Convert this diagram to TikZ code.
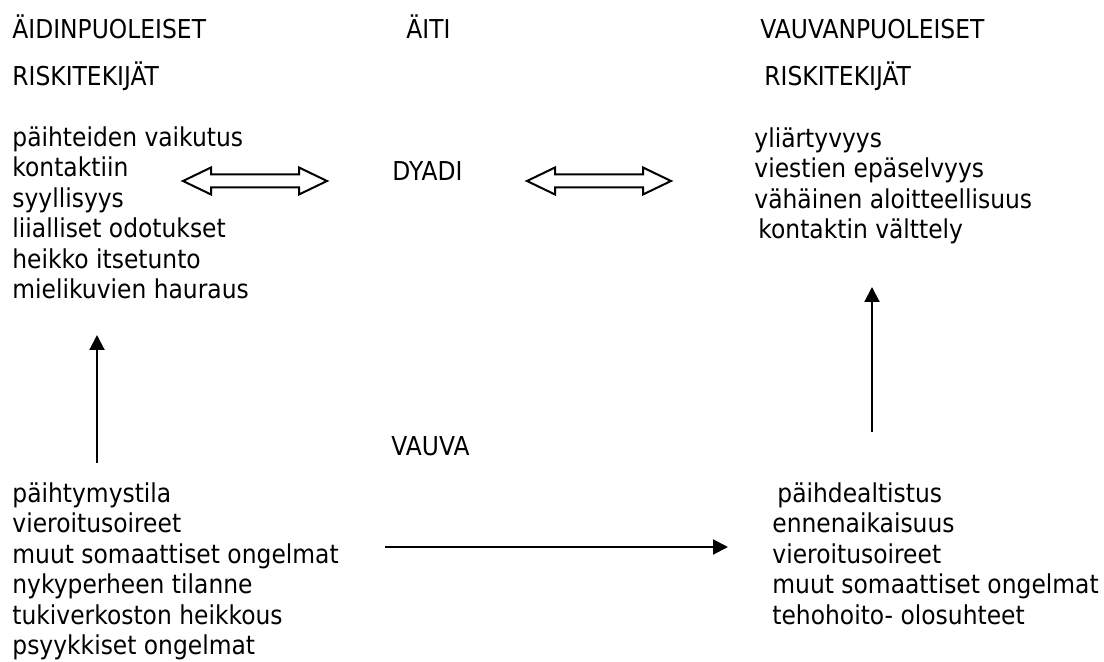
\documentclass[tikz,border=0pt]{standalone}
\usepackage{fontspec}
\setmainfont{DejaVu Sans}[FakeStretch=0.9]
\usetikzlibrary{arrows.meta,calc}

\tikzset{
  txt/.style={inner sep=0pt, font=\fontsize{13pt}{15.25pt}\selectfont},
  lst/.style={txt, align=left, anchor=north west},
  head/.style={txt, anchor=base west},
  thin/.style={line width=1pt, -{Triangle[width=7.5pt,length=7.5pt]}},
  fat/.style={line width=1pt, line join=miter}
}

% wide double arrow between two tips
\newcommand{\fatarrow}[2]{%
  \draw[fat] (#1) -- ++(28,-13.5) -- ++(0,7) -- ($(#2)+(-28,-6.5)$)
    -- ++(0,-7) -- (#2) -- ++(-28,13.5) -- ++(0,-7)
    -- ($(#1)+(28,6.5)$) -- ++(0,7) -- cycle;}

\begin{document}
\begin{tikzpicture}[x=0.5pt, y=-0.5pt]
  \useasboundingbox (0,0) rectangle (1104,662);

  % headings
  \node[head] (aidin) at (12,39) {ÄIDINPUOLEISET};
  \node[head] (aiti) at (406,39) {ÄITI};
  \node[head] (vauvan) at (760,39) {VAUVANPUOLEISET};
  \node[head] (riskiA) at (12,86) {RISKITEKIJÄT};
  \node[head] (riskiV) at (764,86) {RISKITEKIJÄT};

  % risk lists
  \node[lst] (aitiR) at (12,126) {päihteiden vaikutus\\ kontaktiin\\ syyllisyys\\
    liialliset odotukset\\ heikko itsetunto\\ mielikuvien hauraus};
  \node[head] (dyadi) at (392,181) {DYADI};
  \node[lst] (vauvaR) at (754,127) {yliärtyvyys\\ viestien epäselvyys\\
    vähäinen aloitteellisuus\\ \hspace{2pt}kontaktin välttely};

  \node[head] (vauva) at (391,456) {VAUVA};
  \node[lst] (aitiT) at (12,482) {päihtymystila\\ vieroitusoireet\\
    muut somaattiset ongelmat\\ nykyperheen tilanne\\ tukiverkoston heikkous\\
    psyykkiset ongelmat};
  \node[lst] (vauvaT) at (772,482) {\hspace{2.5pt}päihdealtistus\\ ennenaikaisuus\\
    vieroitusoireet\\ muut somaattiset ongelmat\\ tehohoito- olosuhteet};

  % arrow ends
  \coordinate (dl1) at (183,181);
  \coordinate (dl2) at (327,181);
  \coordinate (dr1) at (527,181);
  \coordinate (dr2) at (671,181);
  \coordinate (up1) at (97,463);
  \coordinate (up1e) at (97,335);
  \coordinate (up2) at (872,432);
  \coordinate (up2e) at (872,287);
  \coordinate (mid1) at (385,547);
  \coordinate (mid2) at (728,547);

  \fatarrow{dl1}{dl2}
  \fatarrow{dr1}{dr2}

  \draw[thin] (up1) -- (up1e);
  \draw[thin] (up2) -- (up2e);
  \draw[thin] (mid1) -- (mid2);
\end{tikzpicture}
\end{document}
